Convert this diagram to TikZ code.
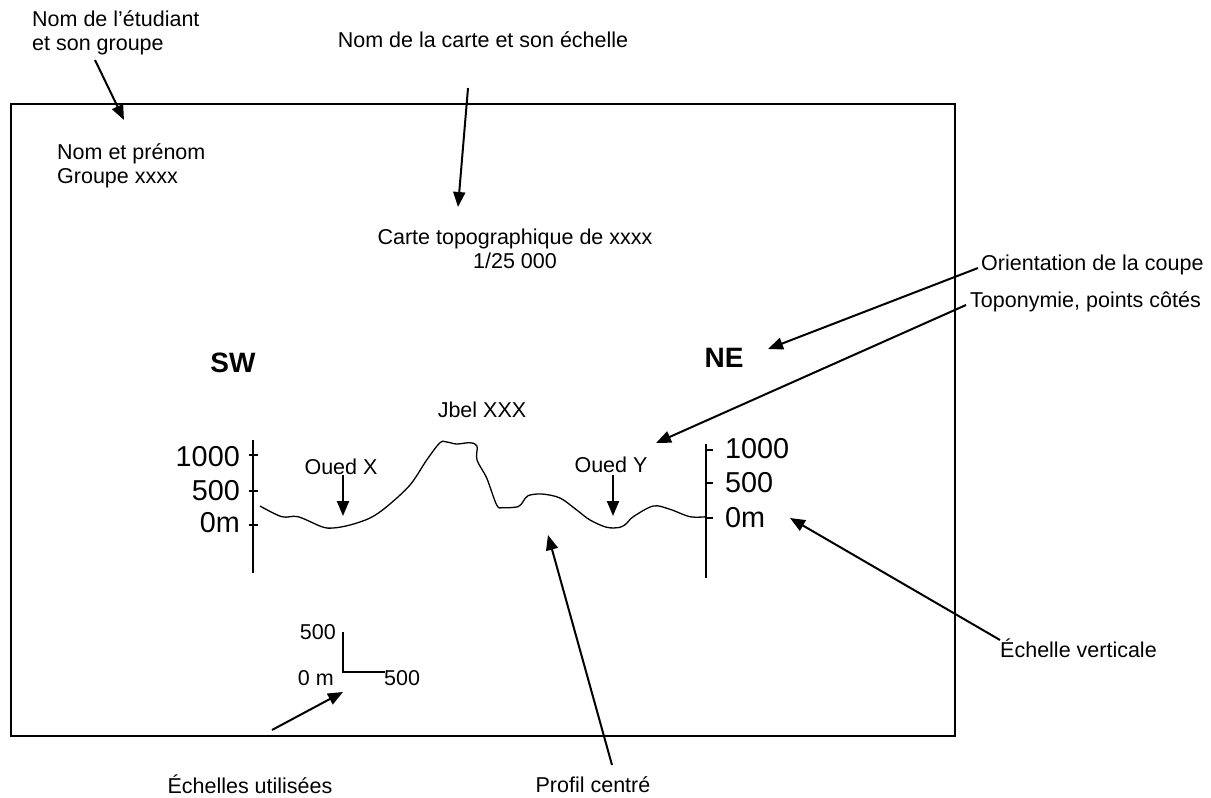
\documentclass[tikz,border=0pt]{standalone}
\usepackage{fontspec}
\setmainfont{Liberation Sans}
\usetikzlibrary{arrows.meta}
\begin{document}
\begin{tikzpicture}[x=1pt,y=-1pt,
  lbl/.style={inner sep=0pt,font=\fontsize{21.5}{24}\selectfont,align=left},
  lblc/.style={lbl,align=center},
  big/.style={inner sep=0pt,font=\fontsize{28.8}{32}\selectfont},
  dir/.style={inner sep=0pt,font=\fontsize{28}{32}\selectfont\bfseries},
  arr/.style={line width=2pt,-{Triangle[length=15pt,width=12pt]}},
  axis/.style={line width=1.8pt},
  frame/.style={line width=2.4pt}]
\useasboundingbox (0,0) rectangle (1211,798);
\draw[frame] (11,104) rectangle (955,736);
% labels outside
\node[lbl,anchor=north west] (etud) at (32,10) {Nom de l'étudiant\\et son groupe};
\node[lblc] (cartelbl) at (483,40) {Nom de la carte et son échelle};
\node[lbl,anchor=west] (orient) at (981,265) {Orientation de la coupe};
\node[lbl,anchor=west] (topo) at (970,302) {Toponymie, points côtés};
\node[lbl,anchor=west] (vert) at (1000,648) {Échelle verticale};
\node[lblc] (echu) at (250,784) {Échelles utilisées};
\node[lblc] (prof) at (593,785) {Profil centré};
% labels inside
\node[lbl,anchor=north west] (nom) at (57,143) {Nom et prénom\\Groupe xxxx};
\node[lblc] (carte) at (515,249) {Carte topographique de xxxx\\1/25 000};
\node[dir] (sw) at (233,363) {SW};
\node[dir] (ne) at (724,358) {NE};
\node[lblc] (jbel) at (482,410) {Jbel XXX};
\node[lblc] (ouedx) at (341,467) {Oued X};
\node[lblc] (ouedy) at (611,465) {Oued Y};
% axes
\draw[axis] (253,440) -- (253,573);
\foreach \yy in {455,491,525} \draw[axis] (249,\yy) -- (258,\yy);
\node[big,anchor=east] (l1000) at (240,457) {1000};
\node[big,anchor=east] (l500) at (240,491) {500};
\node[big,anchor=east] (l0) at (240,523) {0m};
\draw[axis] (706,444) -- (706,578);
\foreach \yy in {450,483,518} \draw[axis] (706,\yy) -- (713,\yy);
\node[big,anchor=west] (r1000) at (725,449) {1000};
\node[big,anchor=west] (r500) at (725,483) {500};
\node[big,anchor=west] (r0) at (725,518) {0m};
% profile
\draw[line width=1.3pt] plot[smooth,tension=0.55] coordinates {(260,506) (281.7,516.7) (298,516.7) (321.7,526.7) (333,528) (350,525) (370,518) (386.7,506.7) (410,485) (426.7,460) (440,442.7) (446.7,442) (456.7,444) (470,442.7) (477,446) (477,460) (486.7,478) (496.7,505) (503,507.7) (518,506.7) (523,501.7) (528,495.7) (541.7,494) (560,498) (576.7,510) (590,520) (606.7,527.3) (620,527.3) (626.7,523.3) (633.3,516.7) (653.3,506) (670,509.3) (690,516.7) (706.7,516.7)};
% scale bar
\coordinate (sbt) at (343,632);
\coordinate (sbo) at (343,672);
\coordinate (sbr) at (385,672);
\draw[line width=1.6pt] (sbt) -- (sbo) -- (sbr);
\node[lbl,anchor=east] (s500v) at (336,632) {500};
\node[lbl,anchor=east] (s0) at (334,678) {0 m};
\node[lbl,anchor=west] (s500h) at (384,678) {500};
% arrow endpoints
\coordinate (a1t) at (95,60);   \coordinate (a1h) at (124,120);
\coordinate (a2t) at (468,88);  \coordinate (a2h) at (458,207);
\coordinate (a3t) at (978,268); \coordinate (a3h) at (768,349);
\coordinate (a4t) at (966,305); \coordinate (a4h) at (656,443);
\coordinate (a5t) at (1000,640);\coordinate (a5h) at (790,518);
\coordinate (a6t) at (612,765); \coordinate (a6h) at (548,535);
\coordinate (a7t) at (272,730); \coordinate (a7h) at (343,692);
\coordinate (oxt) at (343,475); \coordinate (oxh) at (343,516);
\coordinate (oyt) at (613,475); \coordinate (oyh) at (613,516);
\draw[arr] (a1t) -- (a1h);
\draw[arr] (a2t) -- (a2h);
\draw[arr] (a3t) -- (a3h);
\draw[arr] (a4t) -- (a4h);
\draw[arr] (a5t) -- (a5h);
\draw[arr] (a6t) -- (a6h);
\draw[arr] (a7t) -- (a7h);
\draw[arr] (oxt) -- (oxh);
\draw[arr] (oyt) -- (oyh);
\end{tikzpicture}
\end{document}
